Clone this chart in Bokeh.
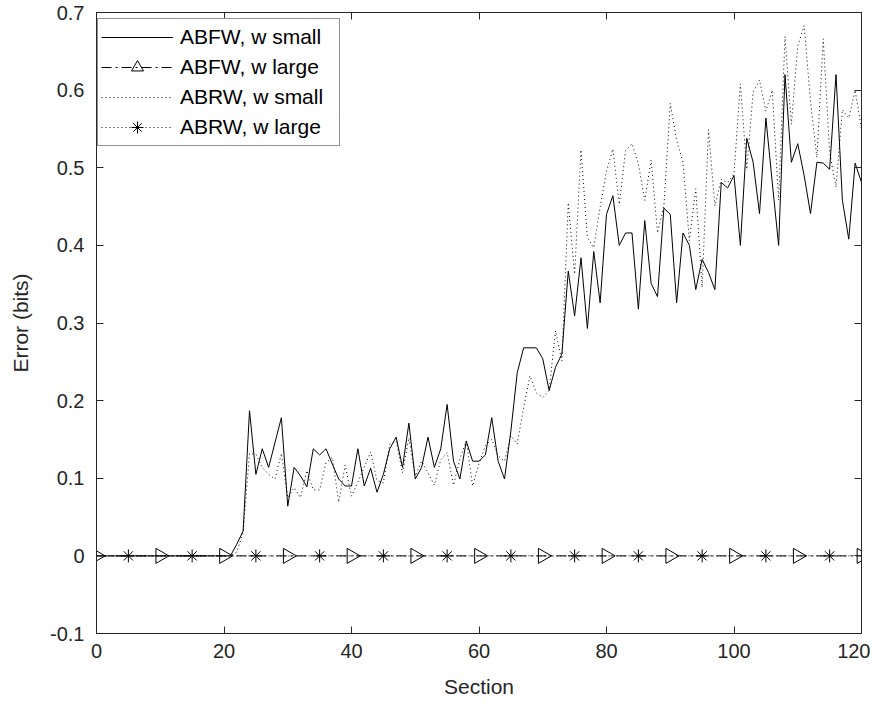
import math
from bokeh.plotting import figure
from bokeh.models import (Range1d, FixedTicker, LinearAxis, Legend, LegendItem,
                          CustomJSTickFormatter, ColumnDataSource)
from bokeh.embed import file_html
from bokeh.resources import INLINE

# ---------------- data ----------------
section = list(range(0, 121))

abfw_small = [
    0, 0, 0, 0, 0, 0, 0, 0, 0, 0, 0, 0, 0, 0, 0, 0, 0, 0, 0, 0,
    0, 0, 0.015, 0.032, 0.187, 0.105, 0.138, 0.114, 0.146, 0.178,
    0.064, 0.114, 0.103, 0.089, 0.138, 0.130, 0.138, 0.118, 0.099, 0.090,
    0.090, 0.138, 0.090, 0.113, 0.082, 0.105, 0.138, 0.153, 0.114, 0.171,
    0.099, 0.114, 0.153, 0.114, 0.138, 0.195, 0.122, 0.099, 0.148, 0.122,
    0.122, 0.130, 0.178, 0.122, 0.099, 0.161, 0.236, 0.268, 0.268, 0.268,
    0.254, 0.213, 0.243, 0.260, 0.367, 0.309, 0.384, 0.293, 0.392, 0.326,
    0.440, 0.464, 0.400, 0.416, 0.416, 0.318, 0.432, 0.351, 0.334, 0.448,
    0.440, 0.326, 0.416, 0.400, 0.343, 0.382, 0.365, 0.343, 0.481, 0.474,
    0.490, 0.400, 0.538, 0.507, 0.441, 0.564, 0.481, 0.400, 0.620, 0.507,
    0.531, 0.490, 0.441, 0.507, 0.506, 0.498, 0.620, 0.458, 0.408, 0.506,
    0.481,
]

abrw_small = [
    0, 0, 0, 0, 0, 0, 0, 0, 0, 0, 0, 0, 0, 0, 0, 0, 0, 0, 0, 0,
    0, 0, 0.005, 0.030, 0.132, 0.131, 0.114, 0.105, 0.099, 0.132,
    0.075, 0.088, 0.075, 0.110, 0.085, 0.085, 0.120, 0.127, 0.069, 0.117,
    0.077, 0.095, 0.114, 0.134, 0.097, 0.094, 0.144, 0.148, 0.107, 0.152,
    0.103, 0.122, 0.107, 0.091, 0.124, 0.133, 0.091, 0.125, 0.148, 0.090,
    0.119, 0.142, 0.150, 0.129, 0.122, 0.155, 0.144, 0.191, 0.232, 0.210,
    0.204, 0.213, 0.290, 0.251, 0.455, 0.363, 0.523, 0.410, 0.397, 0.449,
    0.496, 0.524, 0.453, 0.522, 0.531, 0.505, 0.458, 0.510, 0.416, 0.450,
    0.583, 0.535, 0.507, 0.406, 0.473, 0.346, 0.549, 0.451, 0.485, 0.481,
    0.492, 0.608, 0.498, 0.597, 0.613, 0.573, 0.600, 0.458, 0.669, 0.556,
    0.657, 0.683, 0.586, 0.513, 0.666, 0.520, 0.475, 0.575, 0.564, 0.600,
    0.550,
]

abfw_large = [
    0, 0, 0, 0, 0, 0, 0, 0, 0, 0, 0, 0, 0, 0, 0, 0, 0, 0, 0, 0,
    0, 0, 0, 0, 0, 0, 0, 0, 0, 0, 0, 0, 0, 0, 0, 0, 0, 0, 0, 0,
    0, 0, 0, 0, 0, 0, 0, 0, 0, 0, 0, 0, 0, 0, 0, 0, 0, 0, 0, 0,
    0, 0, 0, 0, 0, 0, 0, 0, 0, 0, 0, 0, 0, 0, 0, 0, 0, 0, 0, 0,
    0, 0, 0, 0, 0, 0, 0, 0, 0, 0, 0, 0, 0, 0, 0, 0, 0, 0, 0, 0,
    0, 0, 0, 0, 0, 0, 0, 0, 0, 0, 0, 0, 0, 0, 0, 0, 0, 0, 0, 0,
    0,
]

abrw_large = [
    0, 0, 0, 0, 0, 0, 0, 0, 0, 0, 0, 0, 0, 0, 0, 0, 0, 0, 0, 0,
    0, 0, 0, 0, 0, 0, 0, 0, 0, 0, 0, 0, 0, 0, 0, 0, 0, 0, 0, 0,
    0, 0, 0, 0, 0, 0, 0, 0, 0, 0, 0, 0, 0, 0, 0, 0, 0, 0, 0, 0,
    0, 0, 0, 0, 0, 0, 0, 0, 0, 0, 0, 0, 0, 0, 0, 0, 0, 0, 0, 0,
    0, 0, 0, 0, 0, 0, 0, 0, 0, 0, 0, 0, 0, 0, 0, 0, 0, 0, 0, 0,
    0, 0, 0, 0, 0, 0, 0, 0, 0, 0, 0, 0, 0, 0, 0, 0, 0, 0, 0, 0,
    0,
]

x_ticks = [0, 20, 40, 60, 80, 100, 120]
y_ticks = [-0.1, 0, 0.1, 0.2, 0.3, 0.4, 0.5, 0.6, 0.7]
series_labels = ["ABFW, w small", "ABFW, w large", "ABRW, w small", "ABRW, w large"]

FONT = "Liberation Sans"
AX = "#262626"

# ---------------- figure ----------------
p = figure(width=870, height=702, output_backend="svg", toolbar_location=None,
           x_range=Range1d(0, 120), y_range=Range1d(-0.1, 0.7),
           min_border_left=96, min_border_right=9, min_border_top=12,
           min_border_bottom=69)
p.xgrid.visible = False
p.ygrid.visible = False
p.outline_line_color = AX
p.outline_line_width = 1
p.background_fill_color = "white"
p.border_fill_color = "white"

fmt = CustomJSTickFormatter(code="return Math.abs(tick) < 1e-9 ? '0' : tick.toFixed(1);")
blank = CustomJSTickFormatter(code="return '';")

for ax in (p.xaxis[0], p.yaxis[0]):
    ax.major_tick_in = 7
    ax.major_tick_out = 0
    ax.minor_tick_line_color = None
    ax.axis_line_color = AX
    ax.major_tick_line_color = AX
    ax.major_label_text_font = FONT
    ax.major_label_text_font_size = "20px"
    ax.major_label_text_color = AX
    ax.axis_label_text_font = FONT
    ax.axis_label_text_font_size = "21px"
    ax.axis_label_text_font_style = "normal"
    ax.axis_label_text_color = AX

p.xaxis[0].ticker = FixedTicker(ticks=x_ticks)
p.yaxis[0].ticker = FixedTicker(ticks=y_ticks)
p.yaxis[0].formatter = fmt
p.xaxis[0].axis_label = "Section"
p.yaxis[0].axis_label = "Error (bits)"
p.xaxis[0].major_label_standoff = 10
p.yaxis[0].major_label_standoff = 12
p.xaxis[0].axis_label_standoff = 14
p.yaxis[0].axis_label_standoff = 15

top_ax = LinearAxis(ticker=FixedTicker(ticks=x_ticks), formatter=blank,
                    major_tick_in=7, major_tick_out=0, minor_tick_line_color=None,
                    major_label_standoff=0, axis_line_color=AX, major_tick_line_color=AX)
right_ax = LinearAxis(ticker=FixedTicker(ticks=y_ticks), formatter=blank,
                      major_tick_in=7, major_tick_out=0, minor_tick_line_color=None,
                      major_label_standoff=0, axis_line_color=AX, major_tick_line_color=AX)
p.add_layout(top_ax, "above")
p.add_layout(right_ax, "right")

# ---------------- series ----------------
r1 = p.line(section, abfw_small, line_color="black", line_width=1)

r2 = p.line(section, abfw_large, line_color="black", line_width=1, line_dash="10 4 2 4")
tri_src = ColumnDataSource(dict(x=section[::10], y=abfw_large[::10],
                                a=[-math.pi / 2] * len(section[::10])))
r2m = p.scatter("x", "y", source=tri_src, marker="triangle", angle="a",
                size=15, line_color="black", line_width=1, fill_alpha=0)

r3 = p.line(section, abrw_small, line_color="black", line_width=1, line_dash="1 3")

r4 = p.line(section, abrw_large, line_color="black", line_width=1, line_dash="1 3")
r4m = p.scatter(section[5::10], abrw_large[5::10], marker="asterisk", size=13,
                line_color="black", line_width=1)

legend = Legend(items=[
    LegendItem(label=series_labels[0], renderers=[r1]),
    LegendItem(label=series_labels[1], renderers=[r2, r2m]),
    LegendItem(label=series_labels[2], renderers=[r3]),
    LegendItem(label=series_labels[3], renderers=[r4, r4m]),
], location=(1, 487))
legend.label_text_font = FONT
legend.label_text_font_size = "21px"
legend.label_text_color = "black"
legend.glyph_width = 72
legend.glyph_height = 30
legend.label_height = 29
legend.label_width = 156
legend.label_standoff = 7
legend.spacing = 0
legend.padding = 3
legend.margin = 0
legend.border_line_color = AX
legend.border_line_width = 1
legend.background_fill_color = "white"
legend.background_fill_alpha = 1
p.add_layout(legend)

open("out.html", "w").write(file_html(p, INLINE))
